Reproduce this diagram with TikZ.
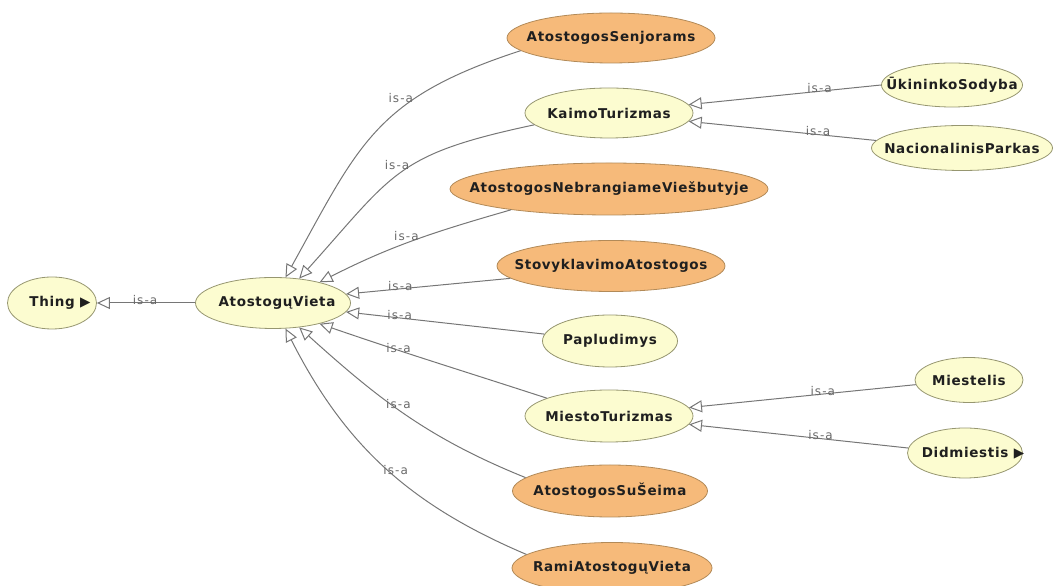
\documentclass[tikz,border=0pt]{standalone}
\usepackage{fontspec}
\usetikzlibrary{shapes.geometric, arrows.meta}

\newfontfamily\classfont{DejaVu Sans}[LetterSpace=5]
\newfontfamily\relfont{DejaVu Sans}[LetterSpace=9]
\newcommand{\clsfont}{\classfont\bfseries\fontsize{13.5}{16}\selectfont}
\newcommand{\isafont}{\relfont\fontsize{12}{14}\selectfont}

\definecolor{clsfill}{RGB}{252,252,208}
\definecolor{clsline}{RGB}{150,150,112}
\definecolor{deffill}{RGB}{246,186,122}
\definecolor{defline}{RGB}{178,138,88}
\definecolor{edgegray}{RGB}{118,118,118}
\definecolor{labelgray}{RGB}{105,105,105}

\tikzset{
  cls/.style={ellipse, draw=clsline, fill=clsfill, line width=0.8pt, inner sep=0pt},
  defcls/.style={cls, draw=defline, fill=deffill},
  clsname/.style={font=\clsfont, text=black!88, inner sep=0pt},
  isa/.style={draw=edgegray, line width=1pt, -{Triangle[open, length=13pt, width=12pt]}},
  isalabel/.style={font=\isafont, text=labelgray, inner sep=0pt},
  isaup/.style={isalabel, anchor=south east, xshift=6pt},
  isamid/.style={isalabel, anchor=south, yshift=-2pt},
  isalow/.style={isalabel, anchor=south west, xshift=-5pt, yshift=-5pt}
}

\begin{document}
\begin{tikzpicture}[x=1pt, y=1pt]
  \useasboundingbox (0,0) rectangle (1061,586);

  % classes (page in pixels, y counted from the bottom)
  \node[cls, minimum width=89pt, minimum height=52pt,
        label={[clsname, xshift=8pt]center:Thing ▶}] (thing) at (52,283) {};
  \node[cls, minimum width=155pt, minimum height=51pt,
        label={[clsname, xshift=4pt]center:AtostogųVieta}] (vieta) at (273,283) {};

  \node[defcls, minimum width=208pt, minimum height=50pt,
        label={[clsname]center:AtostogosSenjorams}] (senj) at (611,548) {};
  \node[cls, minimum width=168pt, minimum height=50pt,
        label={[clsname]center:KaimoTurizmas}] (kaimo) at (609,473) {};
  \node[defcls, minimum width=318pt, minimum height=52pt,
        label={[clsname]center:AtostogosNebrangiameViešbutyje}] (nebr) at (609,397) {};
  \node[defcls, minimum width=228pt, minimum height=51pt,
        label={[clsname]center:StovyklavimoAtostogos}] (stov) at (611,320) {};
  \node[cls, minimum width=135pt, minimum height=52pt,
        label={[clsname]center:Papludimys}] (papl) at (610,245) {};
  \node[cls, minimum width=168pt, minimum height=52pt,
        label={[clsname]center:MiestoTurizmas}] (miesto) at (609,170) {};
  \node[defcls, minimum width=195pt, minimum height=52pt,
        label={[clsname]center:AtostogosSuŠeima}] (suseima) at (610,95) {};
  \node[defcls, minimum width=200pt, minimum height=51pt,
        label={[clsname]center:RamiAtostogųVieta}] (rami) at (612,18) {};

  \node[cls, minimum width=141pt, minimum height=44pt,
        label={[clsname]center:ŪkininkoSodyba}] (ukin) at (952,501) {};
  \node[cls, minimum width=181pt, minimum height=45pt,
        label={[clsname]center:NacionalinisParkas}] (nacio) at (962,438) {};
  \node[cls, minimum width=108pt, minimum height=45pt,
        label={[clsname]center:Miestelis}] (miestelis) at (969,206) {};
  \node[cls, minimum width=115pt, minimum height=50pt,
        label={[clsname, xshift=8pt]center:Didmiestis ▶}] (didm) at (965,133) {};

  % is-a links
  \draw[isa] (vieta.west) -- node[isamid, pos=0.51] {is-a} (thing.east);

  \draw[isa] (senj.188) to[out=198, in=61, looseness=1.2] node[isaup, pos=0.35] {is-a} (vieta.64);
  \draw[isa] (kaimo.189) to[out=192, in=48, looseness=1.3] node[isaup, pos=0.48] {is-a} (vieta.43);
  \draw[isa] (nebr.192) to[out=196, in=27] node[isaup, pos=0.5] {is-a} (vieta.24);
  \draw[isa] (stov.187) -- node[isamid, pos=0.67] {is-a} (vieta.7);
  \draw[isa] (papl.174) -- node[isamid, pos=0.73] {is-a} (vieta.-7);
  \draw[isa] (miesto.164) to[out=162, in=-19] node[isalow, pos=0.7] {is-a} (vieta.-24);
  \draw[isa] (suseima.171) to[out=158, in=-42] node[isalow, pos=0.57] {is-a} (vieta.-43);
  \draw[isa] (rami.171) to[out=157, in=-63] node[isalow, pos=0.48] {is-a} (vieta.-64);

  \draw[isa] (ukin.west) -- node[isamid, pos=0.32] {is-a} (kaimo.6);
  \draw[isa] (nacio.175) -- node[isamid, pos=0.31] {is-a} (kaimo.-6);
  \draw[isa] (miestelis.185) -- node[isamid, pos=0.41] {is-a} (miesto.6);
  \draw[isa] (didm.175) -- node[isamid, pos=0.40] {is-a} (miesto.-6);

\end{tikzpicture}
\end{document}
